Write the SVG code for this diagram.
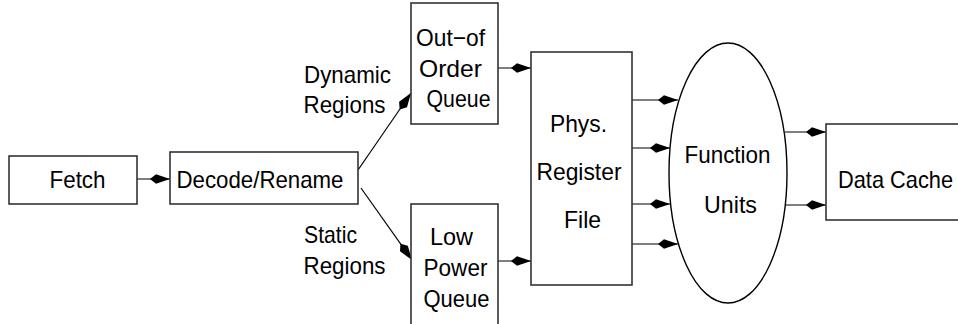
<svg xmlns="http://www.w3.org/2000/svg" width="958" height="324" viewBox="0 0 958 324">
<style>
.box{fill:#fff;stroke:#333;stroke-width:1.6}
.ln{fill:none;stroke:#000;stroke-width:1.2}
text{font-family:"Liberation Sans",Arial,sans-serif;font-size:24px;fill:#000}
</style>
<defs>
<marker id="dia" markerUnits="userSpaceOnUse" viewBox="-21 -6 22 12" markerWidth="22" markerHeight="12" refX="0" refY="0" orient="auto">
<path d="M0,0 L-14,-4.8 L-20,0 L-14,4.8 Z" fill="#000"/>
</marker>
</defs>
<rect width="958" height="324" fill="#fff"/>
<g id="connectors">
<line class="ln" x1="137" y1="179" x2="170" y2="179" marker-end="url(#dia)"/>
<line class="ln" x1="358" y1="170" x2="411" y2="93" marker-end="url(#dia)"/>
<line class="ln" x1="361" y1="188" x2="412" y2="260" marker-end="url(#dia)"/>
<line class="ln" x1="498" y1="68" x2="531" y2="68" marker-end="url(#dia)"/>
<line class="ln" x1="498" y1="261" x2="531" y2="261" marker-end="url(#dia)"/>
<line class="ln" x1="632" y1="100" x2="678" y2="100" marker-end="url(#dia)"/>
<line class="ln" x1="632" y1="148" x2="670" y2="148" marker-end="url(#dia)"/>
<line class="ln" x1="632" y1="204" x2="670" y2="204" marker-end="url(#dia)"/>
<line class="ln" x1="632" y1="244" x2="678" y2="244" marker-end="url(#dia)"/>
<line class="ln" x1="785" y1="132" x2="826" y2="132" marker-end="url(#dia)"/>
<line class="ln" x1="785" y1="205" x2="826" y2="205" marker-end="url(#dia)"/>
</g>
<g id="fetch">
<rect class="box" x="9" y="156" width="128" height="48"/>
<text x="49.5" y="188" textLength="56" lengthAdjust="spacingAndGlyphs">Fetch</text>
</g>
<g id="decode">
<rect class="box" x="170" y="152" width="188" height="52"/>
<text x="176.5" y="188" textLength="167" lengthAdjust="spacingAndGlyphs">Decode/Rename</text>
</g>
<g id="label-dynamic">
<text x="304" y="83" textLength="87" lengthAdjust="spacingAndGlyphs">Dynamic</text>
<text x="303.5" y="113" textLength="82" lengthAdjust="spacingAndGlyphs">Regions</text>
</g>
<g id="label-static">
<text x="304" y="243" textLength="53" lengthAdjust="spacingAndGlyphs">Static</text>
<text x="303.5" y="274" textLength="82" lengthAdjust="spacingAndGlyphs">Regions</text>
</g>
<g id="ooo-queue">
<rect class="box" x="411" y="3" width="87" height="121"/>
<text x="416" y="46" textLength="69" lengthAdjust="spacingAndGlyphs">Out−of</text>
<text x="419" y="77" textLength="63" lengthAdjust="spacingAndGlyphs">Order</text>
<text x="426.5" y="107" textLength="64" lengthAdjust="spacingAndGlyphs">Queue</text>
</g>
<g id="lp-queue">
<rect class="box" x="411" y="204" width="87" height="130"/>
<text x="430" y="245" textLength="43" lengthAdjust="spacingAndGlyphs">Low</text>
<text x="423.5" y="276" textLength="64" lengthAdjust="spacingAndGlyphs">Power</text>
<text x="423.5" y="307" textLength="66" lengthAdjust="spacingAndGlyphs">Queue</text>
</g>
<g id="regfile">
<rect class="box" x="531" y="52" width="101" height="233"/>
<text x="550" y="132" textLength="57" lengthAdjust="spacingAndGlyphs">Phys.</text>
<text x="536.5" y="180" textLength="85" lengthAdjust="spacingAndGlyphs">Register</text>
<text x="564" y="228" textLength="37" lengthAdjust="spacingAndGlyphs">File</text>
</g>
<g id="function-units">
<ellipse cx="728" cy="173" rx="59" ry="130" fill="#fff" stroke="#000" stroke-width="1.4"/>
<text x="684.5" y="163" textLength="86" lengthAdjust="spacingAndGlyphs">Function</text>
<text x="704" y="213" textLength="53" lengthAdjust="spacingAndGlyphs">Units</text>
</g>
<g id="data-cache">
<rect class="box" x="826" y="124" width="140" height="96"/>
<text x="838" y="188" textLength="115" lengthAdjust="spacingAndGlyphs">Data Cache</text>
</g>
</svg>
